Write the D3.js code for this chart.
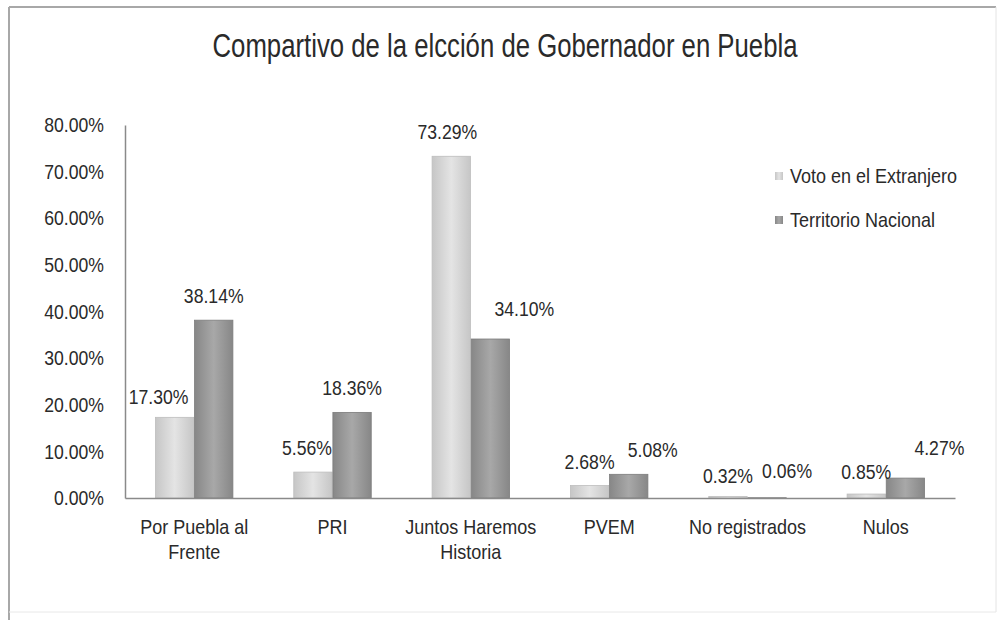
<!DOCTYPE html>
<html>
<head>
<meta charset="utf-8">
<script src="https://cdn.jsdelivr.net/npm/d3@7"></script>
<style>
	body { margin: 0; background: #fff; }
	svg text { font-family: 'Liberation Sans', Arial, sans-serif; fill: #2a2a2a; }
</style>
</head>
<body>
<div id="chart"></div>
<script>
// data
const categories = ['Por Puebla al Frente', 'PRI', 'Juntos Haremos Historia', 'PVEM', 'No registrados', 'Nulos'];
const categoryLines = [['Por Puebla al', 'Frente'], ['PRI'], ['Juntos Haremos', 'Historia'], ['PVEM'], ['No registrados'], ['Nulos']];
const seriesNames = ['Voto en el Extranjero', 'Territorio Nacional'];
const votoExtranjero = [0.1730, 0.0556, 0.7329, 0.0268, 0.0032, 0.0085];
const territorioNacional = [0.3814, 0.1836, 0.3410, 0.0508, 0.0006, 0.0427];
const yTicks = [0, 0.1, 0.2, 0.3, 0.4, 0.5, 0.6, 0.7, 0.8];

// label nudges (layout only) where the original labels were moved off the bar
const labelNudge = [
	[-16, 4], [0, 0],
	[-6, 0], [0, 0],
	[-4, 0], [34, -6],
	[0, 0], [24, 0],
	[0, 3], [20, -3],
	[0, 2], [34, -6]
];

const width = 998, height = 620;
const margin = { top: 125, right: 43, bottom: 122, left: 125 };
const narrow = 0.84; // no narrow face installed, squeeze horizontally

// condense a text element around its own anchor point
function condense(sel, k) {
	sel.each(function () {
		const t = d3.select(this);
		const tx = +t.attr('x') || 0, ty = +t.attr('y') || 0;
		t.attr('x', 0).attr('y', 0).attr('transform', `translate(${tx},${ty}) scale(${k},1)`);
	});
}

const svg = d3.select('#chart').append('svg')
	.attr('width', width)
	.attr('height', height);

// gradients for the bars
const defs = svg.append('defs');
const gradColors = [['#e4e4e4', '#c6c6c6'], ['#a8a8a8', '#878787']];
gradColors.forEach((c, i) => {
	const g = defs.append('linearGradient').attr('id', 'grad' + i).attr('x1', 0).attr('x2', 1).attr('y1', 0).attr('y2', 0);
	g.append('stop').attr('offset', '0%').attr('stop-color', c[1]);
	g.append('stop').attr('offset', '50%').attr('stop-color', c[0]);
	g.append('stop').attr('offset', '100%').attr('stop-color', c[1]);
});

// outer frame (scanned page edges)
svg.append('line').attr('x1', 9).attr('x2', 9).attr('y1', 7).attr('y2', 620).attr('stroke', '#a8a8a8').attr('stroke-width', 2);
svg.append('line').attr('x1', 9).attr('x2', 996).attr('y1', 7).attr('y2', 7).attr('stroke', '#a8a8a8').attr('stroke-width', 2);
svg.append('line').attr('x1', 996).attr('x2', 996).attr('y1', 7).attr('y2', 612).attr('stroke', '#e4e4e4').attr('stroke-width', 1);
svg.append('line').attr('x1', 9).attr('x2', 996).attr('y1', 612).attr('y2', 612).attr('stroke', '#e8e8e8').attr('stroke-width', 1);

// title
svg.append('text')
	.attr('x', 505)
	.attr('y', 57)
	.attr('text-anchor', 'middle')
	.style('font-size', '33px')
	.text('Compartivo de la elcción de Gobernador en Puebla')
	.call(condense, 0.78);

const x0 = d3.scaleBand()
	.domain(categories)
	.range([margin.left, width - margin.right])
	.paddingInner(0.44)
	.paddingOuter(0.22);

const x1 = d3.scaleBand()
	.domain(seriesNames)
	.range([0, x0.bandwidth()])
	.paddingInner(0.02);

const y = d3.scaleLinear()
	.domain([0, 0.8])
	.range([height - margin.bottom, margin.top]);

const fmt = d3.format('.2%');

// y axis
const yAxis = svg.append('g')
	.attr('transform', `translate(${margin.left},0)`)
	.call(d3.axisLeft(y).tickValues(yTicks).tickFormat(fmt).tickSize(0).tickSizeOuter(0).tickPadding(21));
yAxis.select('.domain').attr('stroke', '#8a8a8a').attr('stroke-width', 1.5);
yAxis.selectAll('text').style('font-size', '21px').attr('font-family', null).attr('fill', null).call(condense, narrow);

// bars
const rows = categories.map((c, i) => ({ cat: c, i: i, vals: [votoExtranjero[i], territorioNacional[i]] }));

const groups = svg.selectAll('.group')
	.data(rows)
	.enter()
	.append('g')
	.attr('class', 'group')
	.attr('transform', (d) => `translate(${x0(d.cat)},0)`);

groups.selectAll('rect')
	.data((d) => d.vals.map((v, s) => ({ v: v, s: s, i: d.i })))
	.enter()
	.append('rect')
	.attr('x', (d) => x1(seriesNames[d.s]))
	.attr('width', x1.bandwidth())
	.attr('y', (d) => y(d.v))
	.attr('height', (d) => y(0) - y(d.v))
	.attr('fill', (d) => `url(#grad${d.s})`)
	.attr('stroke', (d) => (d.s ? '#7c7c7c' : '#bdbdbd'))
	.attr('stroke-width', 0.8);

groups.selectAll('.label')
	.data((d) => d.vals.map((v, s) => ({ v: v, s: s, i: d.i })))
	.enter()
	.append('text')
	.attr('class', 'label')
	.attr('text-anchor', 'middle')
	.attr('x', (d) => x1(seriesNames[d.s]) + x1.bandwidth() / 2 + labelNudge[d.i * 2 + d.s][0])
	.attr('y', (d) => y(d.v) - 17 + labelNudge[d.i * 2 + d.s][1])
	.style('font-size', '21px')
	.text((d) => fmt(d.v))
	.call(condense, narrow);

// x axis
const xAxis = svg.append('g')
	.attr('transform', `translate(0,${y(0)})`)
	.call(d3.axisBottom(x0).tickSize(0).tickSizeOuter(0).tickFormat(''));
xAxis.select('.domain').attr('stroke', '#8a8a8a').attr('stroke-width', 1.5);

xAxis.selectAll('.tick').each(function (d, i) {
	const t = d3.select(this).append('text')
		.attr('text-anchor', 'middle')
		.attr('fill', '#2a2a2a')
		.attr('transform', `scale(${narrow + 0.06},1)`)
		.style('font-size', '20px');
	categoryLines[i].forEach((line, k) => {
		t.append('tspan').attr('x', 0).attr('y', 36 + k * 25).text(line);
	});
});

// legend
const legend = svg.append('g').attr('transform', 'translate(775,176)');
seriesNames.forEach((name, i) => {
	const row = legend.append('g').attr('transform', `translate(0,${i * 44})`);
	row.append('rect')
		.attr('x', 0).attr('y', -4)
		.attr('width', 8).attr('height', 8)
		.attr('fill', `url(#grad${i})`);
	row.append('text')
		.attr('x', 15)
		.attr('y', 7)
		.style('font-size', '20px')
		.text(name)
		.call(condense, narrow + 0.06);
});
</script>
</body>
</html>
